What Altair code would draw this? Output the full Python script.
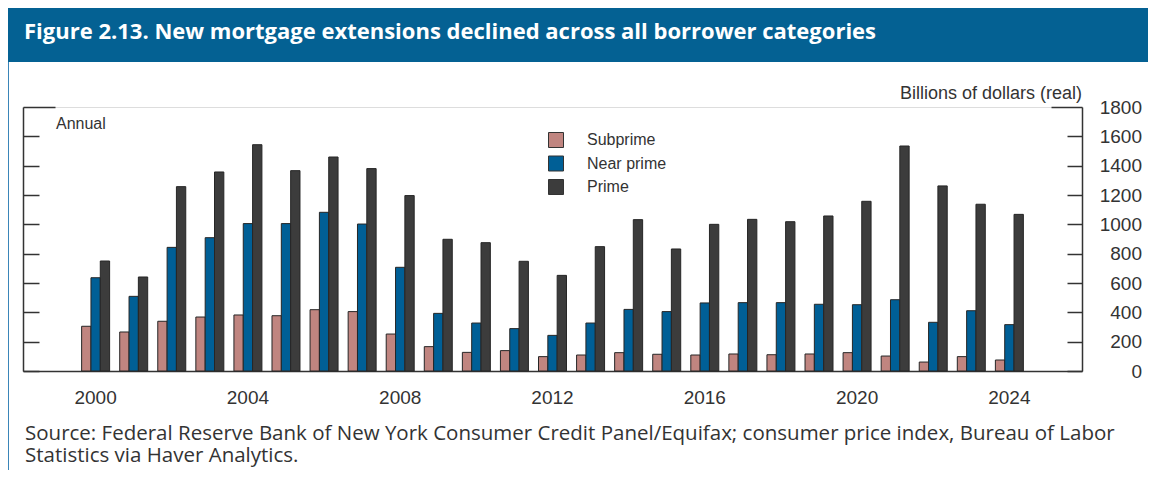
import altair as alt
import pandas as pd

# ---- data ----
years = [str(y) for y in range(2000, 2025)]
subprime = [305, 266, 339, 368, 382, 377, 418, 405, 252, 166, 127, 139, 98,
            109, 125, 114, 109, 116, 111, 116, 125, 102, 61, 98, 75]
near_prime = [636, 509, 843, 909, 1005, 1005, 1082, 1002, 707, 393, 327, 289, 243,
              327, 420, 405, 464, 466, 466, 455, 452, 486, 332, 411, 316]
prime = [750, 641, 1257, 1357, 1543, 1366, 1459, 1380, 1196, 898, 875, 748, 652,
         848, 1032, 832, 1000, 1034, 1018, 1057, 1157, 1534, 1262, 1137, 1068]
series_names = ["Subprime", "Near prime", "Prime"]
series_colors = ["#c08580", "#005f96", "#3c3c3c"]
x_tick_labels = ["2000", "2004", "2008", "2012", "2016", "2020", "2024"]
x_domain = ["1999"] + years + ["2025"]   # empty slots at each end of the axis
y_ticks = [0, 200, 400, 600, 800, 1000, 1200, 1400, 1600, 1800]

title_text = "Figure 2.13. New mortgage extensions declined across all borrower categories"
unit_text = "Billions of dollars (real)"
freq_text = "Annual"
source_text = ("Source: Federal Reserve Bank of New York Consumer Credit Panel/Equifax; consumer price index, Bureau of Labor\n"
               "Statistics via Haver Analytics.")

rows = []
for i, y in enumerate(years):
    for name, vals in zip(series_names, [subprime, near_prime, prime]):
        rows.append({"year": y, "series": name, "value": vals[i]})
df = pd.DataFrame(rows)

W, H = 1059, 264
FONT = "Liberation Sans"
TXT = "#333333"
yscale = alt.Scale(domain=[0, 1800], nice=False, zero=True)

tick_left = {"condition": {"test": "datum.value == 1800", "value": 32}, "value": 16}
tick_right = {"condition": {"test": "datum.value == 1800", "value": 31}, "value": 15}

bars = alt.Chart(df).mark_bar(stroke="#262626", strokeWidth=1).encode(
    x=alt.X("year:O", title=None,
            scale=alt.Scale(domain=x_domain, paddingInner=0.265, paddingOuter=0.54),
            axis=alt.Axis(values=x_tick_labels, ticks=False, tickSize=0, labelAngle=0,
                          labelFontSize=19, labelFont=FONT, labelColor=TXT,
                          labelBaseline="alphabetic", labelPadding=32,
                          domainColor=TXT, domainWidth=1.5, grid=False)),
    xOffset=alt.XOffset("series:N", sort=series_names,
                        scale=alt.Scale(paddingInner=0, paddingOuter=0)),
    y=alt.Y("value:Q", scale=yscale, title=None,
            axis=alt.Axis(orient="right", offset=-W, values=y_ticks, labels=False,
                          tickSize=tick_left, tickColor=TXT, tickWidth=1.5,
                          domainColor=TXT, domainWidth=1.5, grid=False)),
    color=alt.Color("series:N", sort=series_names,
                    scale=alt.Scale(domain=series_names, range=series_colors),
                    legend=alt.Legend(title=None, orient="none", legendX=525, legendY=25,
                                      padding=0, symbolType="square", symbolSize=225,
                                      symbolStrokeColor="#333333", symbolStrokeWidth=1,
                                      symbolOpacity=1, labelOffset=23, labelFontSize=16,
                                      labelFont=FONT, labelColor=TXT, rowPadding=3.5)),
)

right_ticks = alt.Chart(df).mark_point(opacity=0).encode(
    y=alt.Y("value:Q", scale=yscale, title=None,
            axis=alt.Axis(orient="left", offset=-W, values=y_ticks, labels=False,
                          tickSize=tick_right, tickColor=TXT, tickWidth=1.5,
                          domainColor=TXT, domainWidth=1.5, grid=False)),
)

right_labels = alt.Chart(df).mark_point(opacity=0).encode(
    y=alt.Y("value:Q", scale=yscale, title=None,
            axis=alt.Axis(orient="right", values=y_ticks, ticks=False, tickSize=0,
                          domain=False, labelAlign="right", labelPadding=59.5,
                          format="d", labelFontSize=19, labelFont=FONT, labelColor=TXT,
                          labelBaseline="middle", grid=False)),
)

band = alt.Chart(pd.DataFrame({"k": [0]})).mark_rect(color="#046193").encode(
    x=alt.value(-15), x2=alt.value(1125), y=alt.value(-99), y2=alt.value(-45))

border = alt.Chart(pd.DataFrame({"k": [0]})).mark_rule(color="#3a85b8", strokeWidth=1).encode(
    x=alt.value(-14.5), y=alt.value(-45), y2=alt.value(363))

title = alt.Chart(pd.DataFrame({"t": [title_text]})).mark_text(
    align="left", baseline="alphabetic", font="Open Sans", fontSize=22, fontWeight="bold",
    color="white").encode(x=alt.value(1), y=alt.value(-68), text="t:N")

unit = alt.Chart(pd.DataFrame({"t": [unit_text]})).mark_text(
    align="right", baseline="alphabetic", font=FONT, fontSize=18, color=TXT
).encode(x=alt.value(W), y=alt.value(-8.5), text="t:N")

freq = alt.Chart(pd.DataFrame({"t": [freq_text]})).mark_text(
    align="left", baseline="alphabetic", font=FONT, fontSize=16, color=TXT
).encode(x=alt.value(33), y=alt.value(21.6), text="t:N")

source = alt.Chart(pd.DataFrame({"t": [source_text]})).mark_text(
    align="left", baseline="alphabetic", font="Open Sans", fontSize=20.5, color=TXT,
    lineBreak="\n", lineHeight=22
).encode(x=alt.value(2), y=alt.value(333.3), text="t:N")

chart = alt.layer(band, border, bars, right_ticks, right_labels, title, unit, freq, source).resolve_axis(
    y="independent"
).resolve_scale(color="independent").properties(
    width=W, height=H,
    autosize=alt.AutoSizeParams(type="none"),
    padding={"left": 15, "top": 99, "right": 66, "bottom": 99},
).configure_view(stroke=None).configure(background="white")

chart.save("out.html", embed_options={"renderer": "svg", "actions": False})
